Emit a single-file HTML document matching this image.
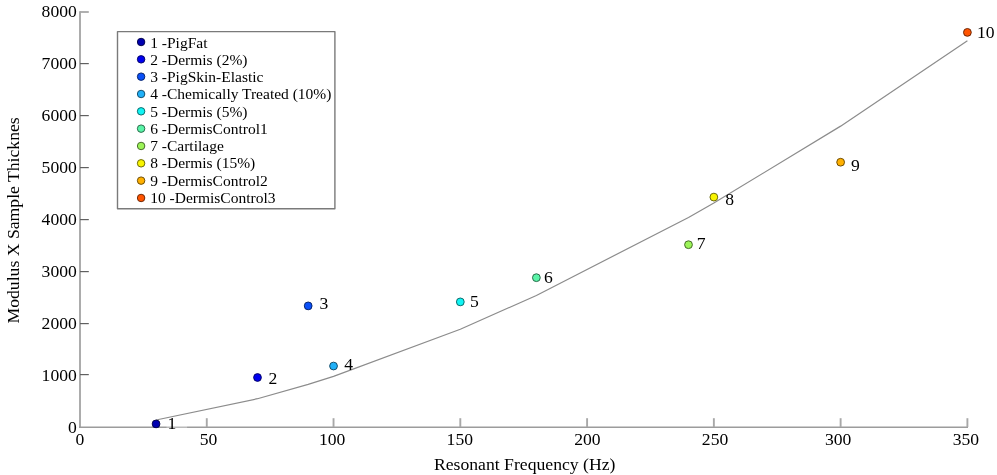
<!DOCTYPE html><html><head><meta charset="utf-8"><style>
html,body{margin:0;padding:0;background:#fff;width:997px;height:475px;overflow:hidden}
svg{display:block;will-change:transform}
text{font-family:"Liberation Serif",serif;fill:#000}
</style></head><body>
<svg width="997" height="475" viewBox="0 0 997 475">

<path d="M80.0,11.2 L80.0,427.7" fill="none" stroke="#a8a8a8" stroke-width="1.9"/>
<path d="M79.05,427.15 L968.0,427.15" fill="none" stroke="#9c9c9c" stroke-width="1.5"/>
<line x1="80.0" y1="374.60" x2="88.8" y2="374.60" stroke="#606060" stroke-width="1.2"/>
<line x1="80.0" y1="323.60" x2="88.8" y2="323.60" stroke="#606060" stroke-width="1.2"/>
<line x1="80.0" y1="271.60" x2="88.8" y2="271.60" stroke="#606060" stroke-width="1.2"/>
<line x1="80.0" y1="219.60" x2="88.8" y2="219.60" stroke="#606060" stroke-width="1.2"/>
<line x1="80.0" y1="167.60" x2="88.8" y2="167.60" stroke="#606060" stroke-width="1.2"/>
<line x1="80.0" y1="115.60" x2="88.8" y2="115.60" stroke="#606060" stroke-width="1.2"/>
<line x1="80.0" y1="63.60" x2="88.8" y2="63.60" stroke="#606060" stroke-width="1.2"/>
<line x1="80.0" y1="12.00" x2="88.8" y2="12.00" stroke="#a8a8a8" stroke-width="1.8"/>
<line x1="206.77" y1="427" x2="206.77" y2="418.2" stroke="#a8a8a8" stroke-width="1.9"/>
<line x1="333.54" y1="427" x2="333.54" y2="418.2" stroke="#a8a8a8" stroke-width="1.9"/>
<line x1="460.31" y1="427" x2="460.31" y2="418.2" stroke="#a8a8a8" stroke-width="1.9"/>
<line x1="587.09" y1="427" x2="587.09" y2="418.2" stroke="#a8a8a8" stroke-width="1.9"/>
<line x1="713.86" y1="427" x2="713.86" y2="418.2" stroke="#a8a8a8" stroke-width="1.9"/>
<line x1="840.63" y1="427" x2="840.63" y2="418.2" stroke="#a8a8a8" stroke-width="1.9"/>
<line x1="967.40" y1="427" x2="967.40" y2="418.2" stroke="#a8a8a8" stroke-width="1.9"/>
<text transform="translate(76.80,433.00) scale(1.0,1.0)" font-size="17.6" text-anchor="end">0</text>
<text transform="translate(76.80,381.00) scale(1.0,1.0)" font-size="17.6" text-anchor="end">1000</text>
<text transform="translate(76.80,329.00) scale(1.0,1.0)" font-size="17.6" text-anchor="end">2000</text>
<text transform="translate(76.80,277.00) scale(1.0,1.0)" font-size="17.6" text-anchor="end">3000</text>
<text transform="translate(76.80,225.00) scale(1.0,1.0)" font-size="17.6" text-anchor="end">4000</text>
<text transform="translate(76.80,173.00) scale(1.0,1.0)" font-size="17.6" text-anchor="end">5000</text>
<text transform="translate(76.80,121.00) scale(1.0,1.0)" font-size="17.6" text-anchor="end">6000</text>
<text transform="translate(76.80,69.00) scale(1.0,1.0)" font-size="17.6" text-anchor="end">7000</text>
<text transform="translate(76.80,17.00) scale(1.0,1.0)" font-size="17.6" text-anchor="end">8000</text>
<text transform="translate(84.30,445.00) scale(1.0,1.0)" font-size="17.6" text-anchor="end">0</text>
<text transform="translate(217.25,445.00) scale(1.0,1.0)" font-size="17.6" text-anchor="end">50</text>
<text transform="translate(345.30,445.00) scale(1.0,1.0)" font-size="17.6" text-anchor="end">100</text>
<text transform="translate(473.00,445.00) scale(1.0,1.0)" font-size="17.6" text-anchor="end">150</text>
<text transform="translate(600.60,445.00) scale(1.0,1.0)" font-size="17.6" text-anchor="end">200</text>
<text transform="translate(728.25,445.00) scale(1.0,1.0)" font-size="17.6" text-anchor="end">250</text>
<text transform="translate(851.40,445.00) scale(1.0,1.0)" font-size="17.6" text-anchor="end">300</text>
<text transform="translate(979.10,445.00) scale(1.0,1.0)" font-size="17.6" text-anchor="end">350</text>
<text transform="translate(433.90,470.00) scale(1.0045,0.99)" font-size="17.6">Resonant Frequency (Hz)</text>
<text transform="translate(18.80,323.50) rotate(-90) scale(1.004,0.98)" font-size="17.6">Modulus X Sample Thicknes</text>
<rect x="166.5" y="425.6" width="20.6" height="3.2" fill="#fff" fill-opacity="0.3"/>
<polyline points="156.06,419.97 257.48,398.71 308.19,384.41 333.54,376.40 460.31,329.19 536.38,295.48 688.50,217.44 713.86,203.10 840.63,126.13 967.40,40.86" fill="none" stroke="#8c8c8c" stroke-width="1.2" stroke-linejoin="round"/>
<circle cx="156.06" cy="423.90" r="3.9" fill="#0000b0" stroke="#000042" stroke-width="0.9"/>
<text transform="translate(167.40,429.00) scale(1.0,1.0)" font-size="17.6">1</text>
<circle cx="257.48" cy="377.49" r="3.9" fill="#0000f0" stroke="#00005b" stroke-width="0.9"/>
<text transform="translate(268.50,384.00) scale(1.0,1.0)" font-size="17.6">2</text>
<circle cx="308.19" cy="305.89" r="3.9" fill="#0a50f8" stroke="#031e5e" stroke-width="0.9"/>
<text transform="translate(319.60,309.00) scale(1.0,1.0)" font-size="17.6">3</text>
<circle cx="333.54" cy="366.03" r="3.9" fill="#20b0f8" stroke="#0c425e" stroke-width="0.9"/>
<text transform="translate(344.35,370.00) scale(1.0,1.0)" font-size="17.6">4</text>
<circle cx="460.31" cy="301.89" r="3.9" fill="#10f4f4" stroke="#065c5c" stroke-width="0.9"/>
<text transform="translate(470.05,307.00) scale(1.0,1.0)" font-size="17.6">5</text>
<circle cx="536.38" cy="277.68" r="3.9" fill="#5af4a8" stroke="#225c3f" stroke-width="0.9"/>
<text transform="translate(544.00,283.00) scale(1.0,1.0)" font-size="17.6">6</text>
<circle cx="688.50" cy="244.70" r="3.9" fill="#9cf458" stroke="#3b5c21" stroke-width="0.9"/>
<text transform="translate(696.85,249.00) scale(1.0,1.0)" font-size="17.6">7</text>
<circle cx="713.86" cy="197.10" r="3.9" fill="#f8f400" stroke="#5e5c00" stroke-width="0.9"/>
<text transform="translate(725.35,205.00) scale(1.0,1.0)" font-size="17.6">8</text>
<circle cx="840.63" cy="162.21" r="3.9" fill="#ffb000" stroke="#604200" stroke-width="0.9"/>
<text transform="translate(850.90,171.00) scale(1.0,1.0)" font-size="17.6">9</text>
<circle cx="967.40" cy="32.38" r="3.9" fill="#ff5400" stroke="#601f00" stroke-width="0.9"/>
<text transform="translate(977.00,38.00) scale(1.0,1.0)" font-size="17.6">10</text>
<rect x="117.5" y="31.6" width="217.4" height="177.1" fill="#fff" stroke="#7a7a7a" stroke-width="1.4" stroke-linejoin="round"/>
<circle cx="141.1" cy="42.00" r="3.75" fill="#0000b0" stroke="#000042" stroke-width="0.9"/>
<text transform="translate(150.20,48.00) scale(1.0,1.0)" font-size="15.5">1 -PigFat</text>
<circle cx="141.1" cy="59.33" r="3.75" fill="#0000f0" stroke="#00005b" stroke-width="0.9"/>
<text transform="translate(150.20,65.00) scale(1.0,1.0)" font-size="15.5">2 -Dermis (2%)</text>
<circle cx="141.1" cy="76.66" r="3.75" fill="#0a50f8" stroke="#031e5e" stroke-width="0.9"/>
<text transform="translate(150.20,82.00) scale(1.0,1.0)" font-size="15.5">3 -PigSkin-Elastic</text>
<circle cx="141.1" cy="93.99" r="3.75" fill="#20b0f8" stroke="#0c425e" stroke-width="0.9"/>
<text transform="translate(150.20,99.00) scale(1.0,1.0)" font-size="15.5">4 -Chemically Treated (10%)</text>
<circle cx="141.1" cy="111.32" r="3.75" fill="#10f4f4" stroke="#065c5c" stroke-width="0.9"/>
<text transform="translate(150.20,117.00) scale(1.0,1.0)" font-size="15.5">5 -Dermis (5%)</text>
<circle cx="141.1" cy="128.65" r="3.75" fill="#5af4a8" stroke="#225c3f" stroke-width="0.9"/>
<text transform="translate(150.20,134.00) scale(1.0,1.0)" font-size="15.5">6 -DermisControl1</text>
<circle cx="141.1" cy="145.98" r="3.75" fill="#9cf458" stroke="#3b5c21" stroke-width="0.9"/>
<text transform="translate(150.20,151.00) scale(1.0,1.0)" font-size="15.5">7 -Cartilage</text>
<circle cx="141.1" cy="163.31" r="3.75" fill="#f8f400" stroke="#5e5c00" stroke-width="0.9"/>
<text transform="translate(150.20,168.00) scale(1.0,1.0)" font-size="15.5">8 -Dermis (15%)</text>
<circle cx="141.1" cy="180.64" r="3.75" fill="#ffb000" stroke="#604200" stroke-width="0.9"/>
<text transform="translate(150.20,186.00) scale(1.0,1.0)" font-size="15.5">9 -DermisControl2</text>
<circle cx="141.1" cy="197.97" r="3.75" fill="#ff5400" stroke="#601f00" stroke-width="0.9"/>
<text transform="translate(150.20,203.00) scale(1.0,1.0)" font-size="15.5">10 -DermisControl3</text>
</svg></body></html>
